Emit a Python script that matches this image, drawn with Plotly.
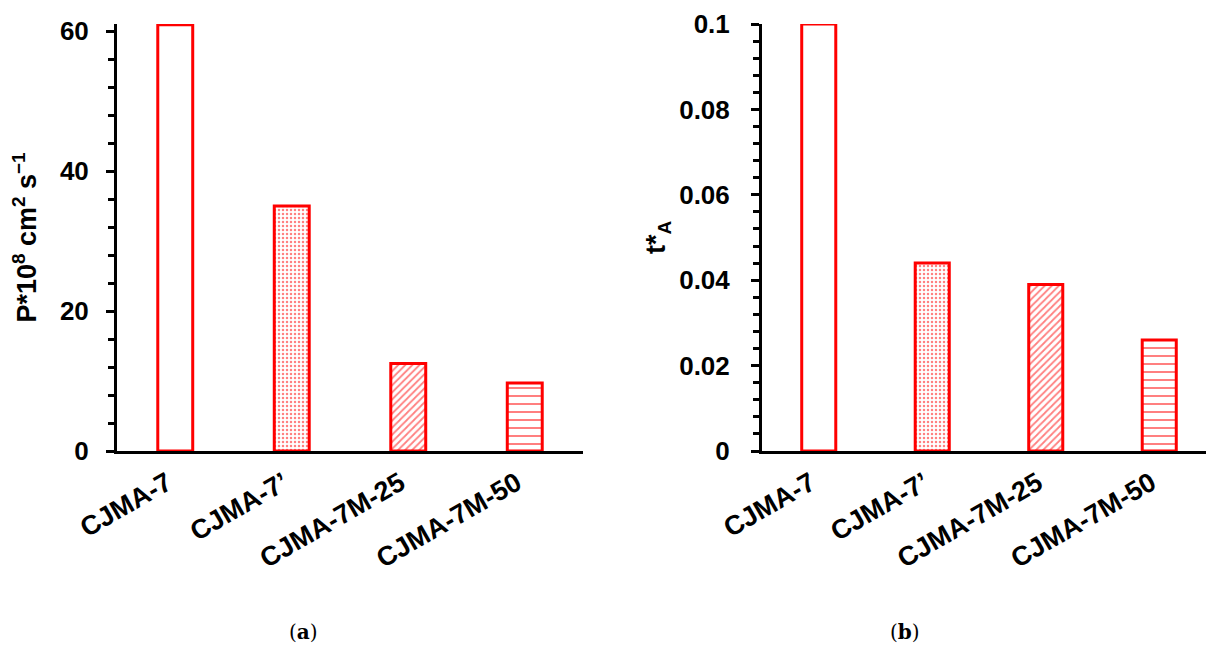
import plotly.graph_objects as go

categories = ["CJMA-7", "CJMA-7’", "CJMA-7M-25", "CJMA-7M-50"]
permeability = [60.9, 35.0, 12.5, 9.7]
transport_num = [0.1, 0.044, 0.039, 0.026]
patterns = ["", ".", "/", "-"]
pattern_sizes = [8, 4, 5, 8]
pattern_solidity = [0.2, 0.3, 0.35, 0.25]

RED = "#FF0000"
FONT = "Liberation Sans, Arial, sans-serif"
W, H = 1214, 647
OFF = 8  # page body margin

def bar(x, y, xa, ya):
    return go.Bar(
        x=x, y=y, xaxis=xa, yaxis=ya, width=0.3,
        marker=dict(color="white", line=dict(color=RED, width=3),
                    pattern=dict(shape=patterns, size=pattern_sizes,
                                 solidity=pattern_solidity,
                                 fgcolor=RED, bgcolor="white")),
        showlegend=False, hoverinfo="x+y",
    )

fig = go.Figure()
fig.add_trace(bar(categories, permeability, "x", "y"))
fig.add_trace(bar(categories, transport_num, "x2", "y2"))

ybot = (H - (451 - OFF)) / H
ytop = (H - (24 - OFF)) / H
tickfont = dict(family=FONT, size=26, color="black", weight="bold")
xtickfont = dict(family=FONT, size=27, color="black", weight="bold")

xcommon = dict(type="category", range=[-0.5, 3.5], showline=True, linecolor="black",
               linewidth=3, ticks="", tickangle=-30, tickfont=xtickfont, automargin=False,
               ticklabelstandoff=3, ticklabelshift=-8,
               showgrid=False, zeroline=False, fixedrange=True)

ycommon = dict(showline=True, linecolor="black", linewidth=3, ticks="outside",
               ticklen=8, tickwidth=3, tickcolor="black", tickfont=tickfont, automargin=False,
               showgrid=False, zeroline=False, fixedrange=True)

overlay_common = dict(ticks="inside", ticklen=8, tickwidth=3, tickcolor="black",
                      showticklabels=False, automargin=False, showline=False,
                      showgrid=False, zeroline=False, fixedrange=True)

caption_font = dict(family="DejaVu Serif, Liberation Serif, serif", size=20, color="black")

fig.update_layout(
    width=W, height=H,
    paper_bgcolor="white", plot_bgcolor="white",
    margin=dict(l=0, r=0, t=0, b=0, autoexpand=False),
    xaxis=dict(domain=[(117 - OFF) / W, (583 - OFF) / W], anchor="y", **xcommon),
    yaxis=dict(domain=[ybot, ytop], anchor="x", range=[0, 61], dtick=20,
               minor=dict(ticks="outside", dtick=4, ticklen=6, tickwidth=3, tickcolor="black"),
               ticklabelstandoff=12,
               title=dict(text="P*10<sup>8</sup> cm<sup>2</sup> s<sup>−1</sup>",
                          font=dict(family=FONT, size=27, color="black", weight="bold"),
                          standoff=32),
               **ycommon),
    yaxis3=dict(overlaying="y", anchor="x", range=[0, 61], dtick=20, **overlay_common),
    xaxis2=dict(domain=[(762 - OFF) / W, (1216 - OFF) / W], anchor="y2", **xcommon),
    yaxis2=dict(domain=[ybot, ytop], anchor="x2", range=[0, 0.1], dtick=0.02,
                minor=dict(ticks="outside", dtick=0.004, ticklen=6, tickwidth=3, tickcolor="black"),
                ticklabelstandoff=16,
                title=dict(text="t*<sub>A</sub>",
                           font=dict(family=FONT, size=27, color="black", weight="bold"),
                           standoff=6),
                **ycommon),
    yaxis4=dict(overlaying="y2", anchor="x2", range=[0, 0.1], dtick=0.02, **overlay_common),
    annotations=[
        dict(text="(<b>a</b>)", x=(303 - OFF) / W, y=1 - (632 - OFF) / H, xref="paper", yref="paper",
             xanchor="center", yanchor="middle", showarrow=False, font=caption_font),
        dict(text="(<b>b</b>)", x=(905 - OFF) / W, y=1 - (632 - OFF) / H, xref="paper", yref="paper",
             xanchor="center", yanchor="middle", showarrow=False, font=caption_font),
    ],
)

fig.write_html("out.html")
